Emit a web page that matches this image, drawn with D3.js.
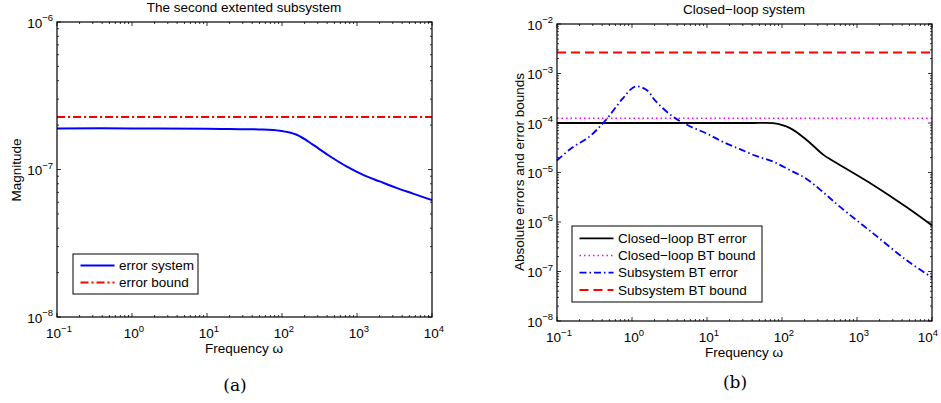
<!DOCTYPE html>
<html>
<head>
<meta charset="utf-8">
<script src="https://cdn.jsdelivr.net/npm/d3@7"></script>
<style>
  body { margin: 0; background: #fff; }
  text { font-family: "Liberation Sans", Arial, sans-serif; fill: #000; }
  .caption { font-family: "DejaVu Serif", "Liberation Serif", serif; font-size: 17px; }
</style>
</head>
<body>
<script>
// (a) the second extended subsystem
const freqA = [0.1, 1, 10, 20, 50, 94, 157, 261, 435, 724, 1208, 2013, 3357, 5590, 10000];
const errSystemA = [1.90e-7, 1.90e-7, 1.89e-7, 1.88e-7, 1.87e-7, 1.83e-7, 1.72e-7, 1.47e-7, 1.23e-7, 1.05e-7, 9.2e-8, 8.3e-8, 7.5e-8, 6.86e-8, 6.2e-8];
const errBoundA = 2.27e-7;

// (b) closed-loop system
const freqBlack = [0.1, 1, 10, 40, 76, 128, 213, 354, 457, 590, 1640, 4560, 10000];
const closedErr = [1e-4, 1e-4, 1e-4, 1e-4, 9.9e-5, 7.9e-5, 4.55e-5, 2.3e-5, 1.79e-5, 1.42e-5, 5.6e-6, 2.0e-6, 8.5e-7];
const closedBound = 1.25e-4;
const freqBlue = [0.1, 0.16, 0.27, 0.45, 0.76, 1.1, 1.55, 2.1, 3.5, 5.8, 10, 16, 27, 45, 76, 127, 213, 354, 590, 1640, 4560, 10000];
const subErr = [1.75e-5, 3.2e-5, 5.3e-5, 1.16e-4, 3.18e-4, 5.46e-4, 4.68e-4, 2.7e-4, 1.35e-4, 8.7e-5, 6.1e-5, 4.2e-5, 3.0e-5, 2.16e-5, 1.66e-5, 1.12e-5, 7.4e-6, 4.0e-6, 2.04e-6, 5.9e-7, 1.7e-7, 7.6e-8];
const subBound = 2.66e-3;

const xTicks = [-1, 0, 1, 2, 3, 4];
const yTicksA = [-8, -7, -6];
const yTicksB = [-8, -7, -6, -5, -4, -3, -2];

const svg = d3.select("body").append("svg")
              .attr("width", 941)
              .attr("height", 403);

// draws box, ticks and tick labels for one panel, returns scales
function panel(box, xdom, ydom, yexp) {
  const g = svg.append("g");
  const x = d3.scaleLog().domain(xdom).range([box.left, box.right]),
        y = d3.scaleLog().domain(ydom).range([box.bottom, box.top]);

  // minor + major ticks, inward on all 4 sides
  const minorsX = [], minorsY = [];
  for (let e = Math.log10(xdom[0]); e < Math.log10(xdom[1]); e++)
    for (let k = 2; k < 10; k++) minorsX.push(k * Math.pow(10, e));
  for (let e = Math.log10(ydom[0]); e < Math.log10(ydom[1]); e++)
    for (let k = 2; k < 10; k++) minorsY.push(k * Math.pow(10, e));

  const tk = g.append("g").attr("stroke", "#000").attr("stroke-width", 0.8);
  minorsX.forEach(v => {
    tk.append("line").attr("x1", x(v)).attr("x2", x(v)).attr("y1", box.bottom).attr("y2", box.bottom - 2);
    tk.append("line").attr("x1", x(v)).attr("x2", x(v)).attr("y1", box.top).attr("y2", box.top + 2);
  });
  minorsY.forEach(v => {
    tk.append("line").attr("y1", y(v)).attr("y2", y(v)).attr("x1", box.left).attr("x2", box.left + 2);
    tk.append("line").attr("y1", y(v)).attr("y2", y(v)).attr("x1", box.right).attr("x2", box.right - 2);
  });
  xTicks.forEach(e => {
    const v = Math.pow(10, e);
    tk.append("line").attr("x1", x(v)).attr("x2", x(v)).attr("y1", box.bottom).attr("y2", box.bottom - 4);
    tk.append("line").attr("x1", x(v)).attr("x2", x(v)).attr("y1", box.top).attr("y2", box.top + 4);
    // keep the last label inside the window
    const lx = Math.min(x(v) + 2, 941 - 13);
    const t = g.append("text").attr("x", lx).attr("y", box.bottom + 21)
               .attr("text-anchor", "middle").attr("font-size", 13.5);
    t.append("tspan").text("10");
    t.append("tspan").attr("dy", -6.5).attr("font-size", 9.5).text(e < 0 ? "\u2212" + (-e) : e);
  });
  yexp.forEach(e => {
    const v = Math.pow(10, e);
    tk.append("line").attr("y1", y(v)).attr("y2", y(v)).attr("x1", box.left).attr("x2", box.left + 4);
    tk.append("line").attr("y1", y(v)).attr("y2", y(v)).attr("x1", box.right).attr("x2", box.right - 4);
    const t = g.append("text").attr("x", box.left - 4).attr("y", y(v) + 5.5)
               .attr("text-anchor", "end").attr("font-size", 13.5);
    t.append("tspan").text("10");
    t.append("tspan").attr("dy", -6.5).attr("font-size", 9.5).text("\u2212" + (-e));
  });

  g.append("rect")
   .attr("x", box.left).attr("y", box.top)
   .attr("width", box.right - box.left).attr("height", box.bottom - box.top)
   .attr("fill", "none").attr("stroke", "#000").attr("stroke-width", 1.2);

  return {x, y, g};
}

function addLine(p, xs, ys, color, width, dash) {
  const line = d3.line()
                 .x(d => p.x(d[0]))
                 .y(d => p.y(d[1]))
                 .curve(d3.curveCatmullRom.alpha(0.5));
  p.g.insert("path", "rect")
     .attr("d", line(xs.map((v, i) => [v, ys[i]])))
     .attr("fill", "none")
     .attr("stroke", color)
     .attr("stroke-width", width)
     .attr("stroke-dasharray", dash || null);
}

function legend(p, box, items) {
  const lg = p.g.append("g");
  lg.append("rect")
    .attr("x", box.x).attr("y", box.y).attr("width", box.w).attr("height", box.h)
    .attr("fill", "#fff").attr("stroke", "#000").attr("stroke-width", 1);
  items.forEach((it, i) => {
    const yy = box.y + box.first + i * box.step;
    lg.append("line")
      .attr("x1", box.x + 7.5).attr("x2", box.x + 41.5).attr("y1", yy).attr("y2", yy)
      .attr("stroke", it.color).attr("stroke-width", it.width)
      .attr("stroke-dasharray", it.dash || null);
    lg.append("text").attr("x", box.x + 46).attr("y", yy + 4.7)
      .attr("font-size", 13.5).text(it.label);
  });
}

// ---- panel (a)
const pa = panel({left: 57, right: 432, top: 22, bottom: 317}, [0.1, 1e4], [1e-8, 1e-6], yTicksA);
addLine(pa, freqA, errSystemA, "#0000ff", 2);
addLine(pa, [freqA[0], freqA[freqA.length - 1]], [errBoundA, errBoundA], "#ff0000", 2, "8,3,2,3");
svg.append("text").attr("x", 244).attr("y", 12).attr("text-anchor", "middle")
   .attr("font-size", 13.5).text("The second extented subsystem");
svg.append("text").attr("x", 244).attr("y", 353).attr("text-anchor", "middle")
   .attr("font-size", 13.5).text("Frequency \u03c9");
svg.append("text").attr("transform", "translate(21,170) rotate(-90)").attr("text-anchor", "middle")
   .attr("font-size", 13.5).text("Magnitude");
legend(pa, {x: 73, y: 254, w: 125, h: 40, first: 11.5, step: 17}, [
  {label: "error system", color: "#0000ff", width: 2},
  {label: "error bound", color: "#ff0000", width: 2, dash: "8,3,2,3"}
]);
svg.append("text").attr("class", "caption").attr("x", 235).attr("y", 391)
   .attr("text-anchor", "middle").text("(a)");

// ---- panel (b)
const pb = panel({left: 557, right: 932, top: 24, bottom: 321}, [0.1, 1e4], [1e-8, 1e-2], yTicksB);
addLine(pb, freqBlack, closedErr, "#000000", 1.8);
addLine(pb, [0.1, 1e4], [closedBound, closedBound], "#ff00ff", 1.5, "1.5,3");
addLine(pb, freqBlue, subErr, "#0000ff", 1.8, "7,3,1.5,3");
addLine(pb, [0.1, 1e4], [subBound, subBound], "#ff0000", 2, "9,5");
svg.append("text").attr("x", 744).attr("y", 14).attr("text-anchor", "middle")
   .attr("font-size", 13.5).text("Closed\u2212loop system");
svg.append("text").attr("x", 744).attr("y", 357).attr("text-anchor", "middle")
   .attr("font-size", 13.5).text("Frequency \u03c9");
svg.append("text").attr("transform", "translate(524,172) rotate(-90)").attr("text-anchor", "middle")
   .attr("font-size", 13.5).text("Absolute errors and error bounds");
legend(pb, {x: 572, y: 226, w: 190, h: 76, first: 12.3, step: 17.2}, [
  {label: "Closed\u2212loop BT error", color: "#000000", width: 1.8},
  {label: "Closed\u2212loop BT bound", color: "#ff00ff", width: 1.5, dash: "1.5,3"},
  {label: "Subsystem BT error", color: "#0000ff", width: 1.8, dash: "7,3,1.5,3"},
  {label: "Subsystem BT bound", color: "#ff0000", width: 2, dash: "9,5"}
]);
svg.append("text").attr("class", "caption").attr("x", 735).attr("y", 388)
   .attr("text-anchor", "middle").text("(b)");
</script>
</body>
</html>
